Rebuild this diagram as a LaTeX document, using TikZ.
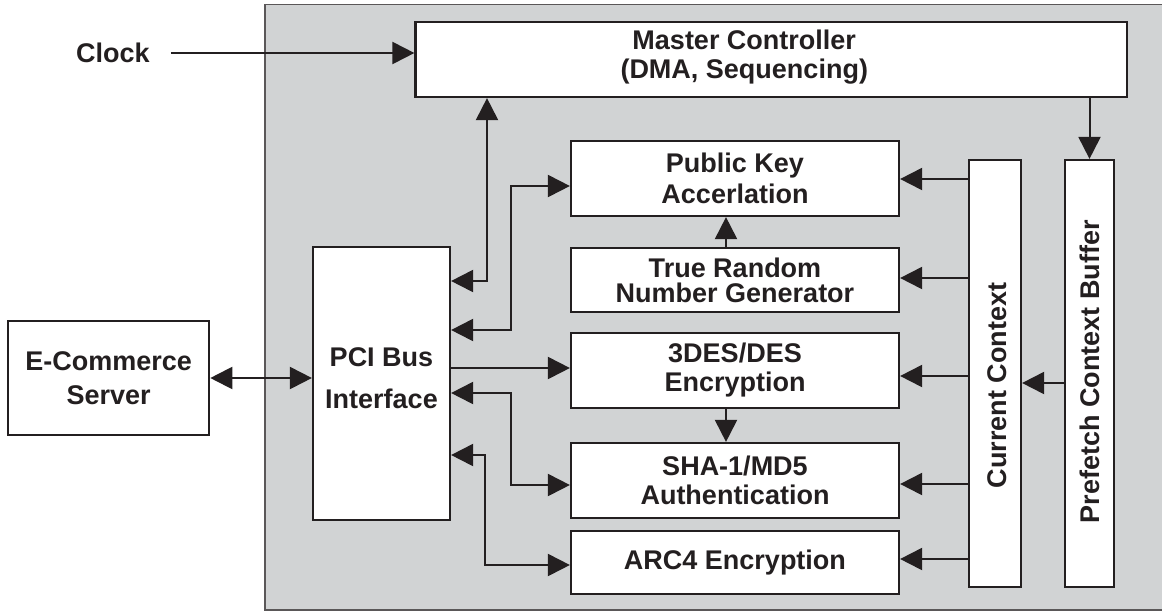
\documentclass[tikz,border=0pt]{standalone}
\usepackage{fontspec}
\setmainfont{Liberation Sans}
\usetikzlibrary{arrows.meta,positioning}
\definecolor{chipgray}{RGB}{209,211,212}
\definecolor{ink}{RGB}{35,31,32}

\begin{document}
\begin{tikzpicture}[x=1pt,y=-1pt,
	txt/.style={inner sep=0pt,align=center,text=ink,font=\bfseries\fontsize{27}{29}\selectfont},
	blk/.style={txt,draw=ink,line width=2.2pt,fill=white},
	arr/.style={draw=ink,line width=2pt,-{Triangle[length=22pt,width=22pt]}},
	dbl/.style={draw=ink,line width=2pt,{Triangle[length=22pt,width=22pt]}-{Triangle[length=22pt,width=22pt]}}]
	\useasboundingbox (0,0) rectangle (1162,611);
	% chip outline
	\fill[chipgray] (265,4.7) rectangle (1162,610);
	\draw[ink!75,line width=1.3pt] (1162,4.7) -- (265,4.7) -- (265,610) -- (1162,610);
	% outside
	\node[txt] (clock) at (113,53) {Clock};
	\node[blk,minimum width=201pt,minimum height=114pt,font=\bfseries\fontsize{27}{34}\selectfont] (ecs) at (108.7,378) {E-Commerce\\Server};
	% blocks
	\node[blk,minimum width=711.5pt,minimum height=75pt] (master) at (771.25,59.5) {};
	\node[txt] (mastertxt) at ([xshift=-27pt,yshift=2pt]master.center) {Master Controller\\(DMA, Sequencing)};
	\node[blk,minimum width=137pt,minimum height=273pt] (pci) at (381.5,383.5) {};
	\node[txt,font=\bfseries\fontsize{27}{42}\selectfont] (pcitxt) at ([yshift=5pt]pci.center) {PCI Bus\\Interface};
	\node[blk,minimum width=328pt,minimum height=75pt,font=\bfseries\fontsize{27}{31}\selectfont] (pk) at (735,178.5) {Public Key\\Accerlation};
	\node[blk,minimum width=328pt,minimum height=64pt,font=\bfseries\fontsize{27}{25}\selectfont] (trng) at (735,280) {True Random\\Number Generator};
	\node[blk,minimum width=328pt,minimum height=75pt] (des) at (735,370.5) {3DES/DES\\Encryption};
	\node[blk,minimum width=328pt,minimum height=75pt] (sha) at (735,480.5) {SHA-1/MD5\\Authentication};
	\node[blk,minimum width=328pt,minimum height=63pt] (arc) at (735,562.5) {ARC4 Encryption};
	\node[blk,minimum width=52pt,minimum height=427pt] (cur) at (995,373.5) {};
	\node[txt,rotate=90] (curtxt) at ([xshift=2pt,yshift=-12pt]cur.center) {Current Context};
	\node[blk,minimum width=49pt,minimum height=427pt] (pre) at (1089.5,373.5) {};
	\node[txt,rotate=90] (pretxt) at ([yshift=2pt]pre.center) {Prefetch Context Buffer};
	% connectors
	\draw[arr] ([xshift=21pt]clock.east) -- (clock.east -| master.west);
	\draw[dbl] (ecs.east) -- (ecs.east -| pci.west);
	\draw[dbl] (pci.east |- 0,281) -| (487,0 |- master.south);
	\draw[dbl] (pci.east |- 0,330) -- (511,330) |- (pk.west |- 0,186);
	\draw[arr] (pci.east |- 0,368) -- (des.west |- 0,368);
	\draw[dbl] (pci.east |- 0,393) -- (511,393) |- (sha.west |- 0,485);
	\draw[dbl] (pci.east |- 0,455) -- (485,455) |- (arc.west |- 0,565);
	\draw[arr] ([xshift=-9pt]trng.north) -- ([xshift=-9pt]pk.south);
	\draw[arr] ([xshift=-9pt]des.south) -- ([xshift=-9pt]sha.north);
	\foreach \b/\y in {pk/179,trng/278,des/376,sha/484,arc/559} % context feeds every engine
	\draw[arr] (cur.west |- 0,\y) -- (\b.east |- 0,\y);
	\draw[arr] (master.south -| pre.north) -- (pre.north);
	\draw[arr] (pre.west |- 0,383) -- (cur.east |- 0,383);
\end{tikzpicture}
\end{document}
